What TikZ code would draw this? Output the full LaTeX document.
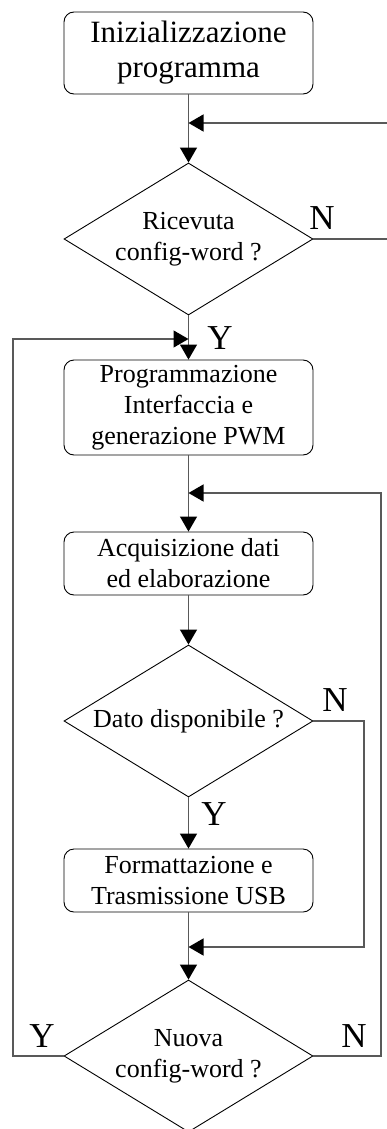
\documentclass[tikz,border=0pt]{standalone}
\usepackage{fontspec}
\setmainfont{Liberation Serif}
\usetikzlibrary{shapes.geometric,arrows.meta}
\begin{document}
\begin{tikzpicture}[x=1pt,y=-1pt,
  procbox/.style={draw=black, line width=0.9pt, rounded corners=10pt, minimum width=249pt, inner sep=0pt, align=center, font=\fontsize{26}{31}\selectfont},
  decbox/.style={draw=black, line width=0.9pt, diamond, shape aspect=1.64, minimum width=249pt, minimum height=152pt, inner sep=0pt, align=center, font=\fontsize{26}{31}\selectfont},
  conn/.style={draw=black!65, line width=1.3pt},
  arr/.style={conn, -{Triangle[length=15pt,width=17pt,color=black]}},
  yn/.style={font=\fontsize{35}{35}\selectfont, inner sep=0pt}
]
\useasboundingbox (0,0) rectangle (387,1129);
\node[procbox, minimum height=82pt, font=\fontsize{31}{35}\selectfont] (b1) at (188.5,53) {Inizializzazione\\programma};
\node[decbox] (d1) at (188.5,239) {Ricevuta\\config-word ?};
\node[procbox, minimum height=95pt] (b2) at (188.5,407.5) {Programmazione\\Interfaccia e\\generazione PWM};
\node[procbox, minimum height=63pt] (b3) at (188.5,563.5) {Acquisizione dati\\ed elaborazione};
\node[decbox] (d2) at (188.5,721) {Dato disponibile ?};
\node[procbox, minimum height=63pt] (b4) at (188.5,880.5) {Formattazione e\\Trasmissione USB};
\node[decbox] (d3) at (188.5,1056) {Nuova\\config-word ?};

\node[yn] (n1) at (322,218) {N};
\node[yn] (y1) at (220,338) {Y};
\node[yn] (n2) at (335,700) {N};
\node[yn] (y2) at (214,814) {Y};
\node[yn] (y3) at (42,1036) {Y};
\node[yn] (n3) at (354,1036) {N};

\coordinate (r1) at (387,123);
\coordinate (r2) at (387,239);
\coordinate (lft) at (13,339);
\coordinate (rt) at (381,493);
\coordinate (mid) at (364,947);

\draw[arr] (b1.south) -- (d1.north);
\draw[arr] (r1) -- (r1 -| b1.south);
\draw[conn] (d1.east) -- (r2);
\draw[arr] (d1.south) -- (b2.north);
\draw[arr] (d3.west) -| (lft) -- (lft -| b2.north);
\draw[arr] (b2.south) -- (b3.north);
\draw[arr] (d3.east) -| (rt) -- (rt -| b3.north);
\draw[arr] (b3.south) -- (d2.north);
\draw[arr] (d2.east) -| (mid) -- (mid -| b4.south);
\draw[arr] (d2.south) -- (b4.north);
\draw[arr] (b4.south) -- (d3.north);
\end{tikzpicture}
\end{document}
